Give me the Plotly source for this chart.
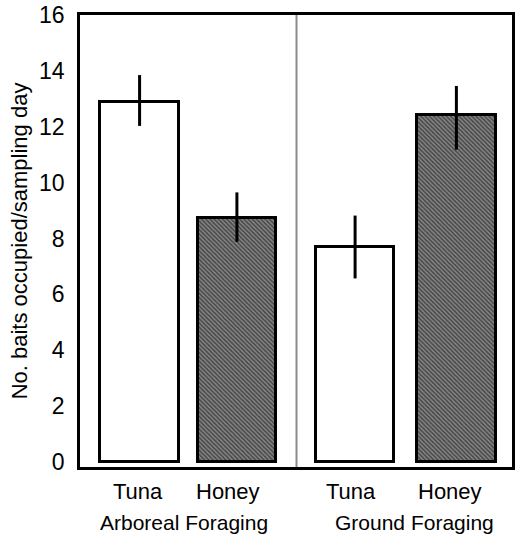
import plotly.graph_objects as go

# ---- data ----
foods = ["Tuna", "Honey", "Tuna", "Honey"]
groups = ["Arboreal Foraging", "Ground Foraging"]
means = [12.9, 8.72, 7.7, 12.43]
err_plus = [0.95, 0.93, 1.12, 1.03]
err_minus = [0.87, 0.84, 1.13, 1.25]
y_ticks = [0, 2, 4, 6, 8, 10, 12, 14, 16]

# ---- layout positions ----
xpos = [0.6, 1.58, 2.77, 3.79]
food_label_x = [0.58, 1.49, 2.73, 3.73]
group_label_x = [1.05, 3.37]
divider_x = 2.18
font = "Liberation Sans, Arial, sans-serif"

fig = go.Figure()

# Tuna bars (white)
fig.add_trace(go.Bar(
    x=[xpos[0], xpos[2]], y=[means[0], means[2]], width=0.79,
    marker=dict(color="white", line=dict(color="black", width=3)),
    error_y=dict(type="data", symmetric=False,
                 array=[err_plus[0], err_plus[2]],
                 arrayminus=[err_minus[0], err_minus[2]],
                 color="black", thickness=3, width=0),
    showlegend=False,
))
# Honey bars (hatched dark)
fig.add_trace(go.Bar(
    x=[xpos[1], xpos[3]], y=[means[1], means[3]], width=0.79,
    marker=dict(color="#4a4a4a", line=dict(color="black", width=3),
                pattern=dict(shape="\\", fgcolor="#d8d8d8", bgcolor="#4a4a4a",
                             size=3, solidity=0.4)),
    error_y=dict(type="data", symmetric=False,
                 array=[err_plus[1], err_plus[3]],
                 arrayminus=[err_minus[1], err_minus[3]],
                 color="black", thickness=3, width=0),
    showlegend=False,
))

# divider line
fig.add_shape(type="line", xref="x", yref="paper", x0=divider_x, x1=divider_x,
              y0=0, y1=1, line=dict(color="#8a8a8a", width=2))

# food tick labels
for xp, lab in zip(food_label_x, foods):
    fig.add_annotation(x=xp, xref="x", y=0, yref="paper", yanchor="top",
                       yshift=-11, text=lab, showarrow=False, borderpad=0,
                       font=dict(family=font, size=22, color="black"))
# group labels
for gx, g in zip(group_label_x, groups):
    fig.add_annotation(x=gx, xref="x", y=0, yref="paper", yanchor="top",
                       yshift=-43, text=g, showarrow=False, borderpad=0,
                       font=dict(family=font, size=21, color="black"))

fig.update_layout(
    width=517, height=537,
    margin=dict(l=80, r=2, t=14, b=70),
    plot_bgcolor="white", paper_bgcolor="white",
    bargap=0,
    font=dict(family=font, size=22, color="black"),
    xaxis=dict(range=[0, 4.35], showticklabels=False, showgrid=False,
               zeroline=False, showline=True, linecolor="black", linewidth=2.5,
               mirror=True, ticks=""),
    yaxis=dict(range=[-0.18, 16], tickvals=y_ticks, showgrid=False,
               zeroline=False, showline=True, linecolor="black", linewidth=2.5,
               mirror=True, ticks="", ticklabelstandoff=8,
               tickfont=dict(family=font, size=23, color="black"),
               title=dict(text="No. baits occupied/sampling day", standoff=6,
                          font=dict(family=font, size=22, color="black"))),
)

fig.write_html("out.html")
